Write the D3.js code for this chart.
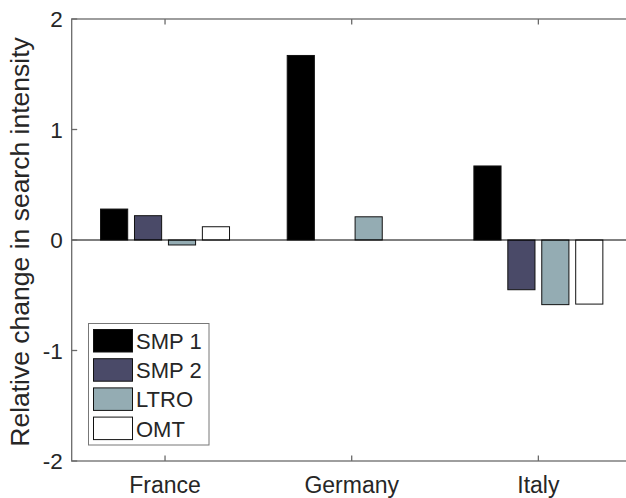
<!DOCTYPE html>
<html>
<head>
<meta charset="utf-8">
<script src="https://cdn.jsdelivr.net/npm/d3@7"></script>
<style>
  html, body { margin: 0; padding: 0; background: #fff; }
  svg { display: block; }
  text { font-family: "Liberation Sans", Arial, sans-serif; fill: #262626; }
</style>
</head>
<body>
<svg id="chart" width="626" height="498"></svg>
<script>
const categories = ["France", "Germany", "Italy"];
const seriesNames = ["SMP 1", "SMP 2", "LTRO", "OMT"];
const seriesColors = ["#000000", "#4a4a68", "#94acb3", "#ffffff"];
const smp1 = [0.28, 1.67, 0.67];
const smp2 = [0.22, 0.0, -0.45];
const ltro = [-0.045, 0.21, -0.585];
const omt = [0.12, 0.0, -0.58];
const yTicks = [-2, -1, 0, 1, 2];
const yLabel = "Relative change in search intensity";

const series = [smp1, smp2, ltro, omt];

const W = 626, H = 498;
const svg = d3.select("#chart");

const x = d3.scaleLinear().domain([0.5, 3.5]).range([71.7, 631.7]);
const y = d3.scaleLinear().domain([-2, 2]).range([461, 19]);

const nS = series.length;
const groupWidth = Math.min(0.8, nS / (nS + 1.5));
const step = groupWidth / nS;
const barW = step * 0.8;

// bars
series.forEach((vals, s) => {
  const off = (s - (nS - 1) / 2) * step;
  svg.append("g").selectAll("rect")
    .data(vals)
    .join("rect")
    .attr("x", (d, i) => x(i + 1 + off - barW / 2))
    .attr("width", (d, i) => x(i + 1 + off + barW / 2) - x(i + 1 + off - barW / 2))
    .attr("y", d => y(Math.max(0, d)))
    .attr("height", d => Math.abs(y(d) - y(0)))
    .attr("fill", seriesColors[s])
    .attr("stroke", "#111")
    .attr("stroke-width", 1);
});

// zero baseline
svg.append("line")
  .attr("x1", x(0.5)).attr("x2", x(3.5))
  .attr("y1", y(0)).attr("y2", y(0))
  .attr("stroke", "#000").attr("stroke-width", 1);

// axes box
const axisColor = "#6a6a6a";
const box = svg.append("g").attr("stroke", axisColor).attr("stroke-width", 1.3).attr("fill", "none");
box.append("rect")
  .attr("x", x(0.5)).attr("y", y(2))
  .attr("width", x(3.5) - x(0.5)).attr("height", y(-2) - y(2));

// x ticks (inward, bottom and top)
const tickLen = 5.5;
categories.forEach((c, i) => {
  box.append("line").attr("x1", x(i + 1)).attr("x2", x(i + 1))
    .attr("y1", y(-2)).attr("y2", y(-2) - tickLen);
  box.append("line").attr("x1", x(i + 1)).attr("x2", x(i + 1))
    .attr("y1", y(2)).attr("y2", y(2) + tickLen);
});
// y ticks (inward, left and right)
yTicks.forEach(t => {
  box.append("line").attr("x1", x(0.5)).attr("x2", x(0.5) + tickLen)
    .attr("y1", y(t)).attr("y2", y(t));
  box.append("line").attr("x1", x(3.5)).attr("x2", x(3.5) - tickLen)
    .attr("y1", y(t)).attr("y2", y(t));
});

// tick labels
svg.append("g").selectAll("text")
  .data(yTicks)
  .join("text")
  .attr("x", x(0.5) - 9)
  .attr("y", d => y(d))
  .attr("dy", "0.36em")
  .attr("text-anchor", "end")
  .attr("font-size", 22.5)
  .text(d => d);

svg.append("g").selectAll("text")
  .data(categories)
  .join("text")
  .attr("x", (d, i) => x(i + 1))
  .attr("y", 492.5)
  .attr("text-anchor", "middle")
  .attr("font-size", 23)
  .text(d => d);

// y label
svg.append("text")
  .attr("transform", `translate(28.5,${(y(2) + y(-2)) / 2 + 2}) rotate(-90)`)
  .attr("text-anchor", "middle")
  .attr("font-size", 26.5)
  .text(yLabel);

// legend
const lg = svg.append("g");
lg.append("rect")
  .attr("x", 88.5).attr("y", 323.5).attr("width", 120.5).attr("height", 121.5)
  .attr("fill", "#fff").attr("stroke", "#777").attr("stroke-width", 1);
seriesNames.forEach((n, s) => {
  const yy = 329.5 + s * 29.2;
  lg.append("rect")
    .attr("x", 93.5).attr("y", yy).attr("width", 39).attr("height", 22.5)
    .attr("fill", seriesColors[s]).attr("stroke", "#111").attr("stroke-width", 1);
  lg.append("text")
    .attr("x", 136).attr("y", yy + 11.5).attr("dy", "0.36em")
    .attr("font-size", 22)
    .attr("fill", "#000")
    .text(n);
});
</script>
</body>
</html>
